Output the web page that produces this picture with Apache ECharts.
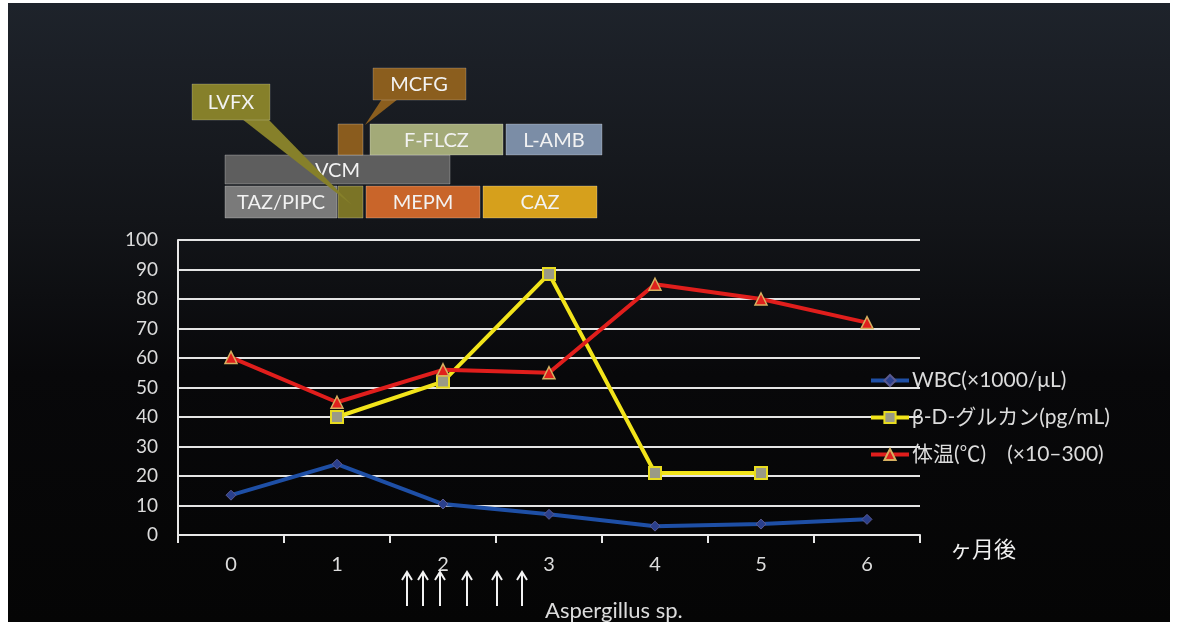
<!DOCTYPE html>
<html>
<head>
<meta charset="utf-8">
<script src="https://cdn.jsdelivr.net/npm/echarts@6/dist/echarts.min.js"></script>
<style>
  html, body { margin: 0; padding: 0; background: #fff; }
  #chart { width: 1180px; height: 625px; }
</style>
</head>
<body>
<div id="chart"></div>
<script>
// months after onset
const months = ['0', '1', '2', '3', '4', '5', '6'];
const wbc = [13.5, 24, 10.5, 7, 3, 3.7, 5.3];
const glucan = [null, 40, 52, 88.5, 21, 21, null];
const bodyTemp = [60.2, 45, 56, 55, 85, 80, 72];
const yTicks = { min: 0, max: 100, interval: 10 };
const seriesNames = ['WBC(×1000/μL)', 'β-D-グルカン(pg/mL)', '体温(℃)　(×10–300)'];

// drug timeline boxes: [label, x, y, w, h, color]
const drugBoxes = [
  ['TAZ/PIPC', 225, 186, 112, 32, '#7a7a7a'],
  ['', 338, 186, 25, 32, '#7b7426'],
  ['MEPM', 366, 186, 114, 32, '#c9652a'],
  ['CAZ', 483, 186, 114, 32, '#d6a01c'],
  ['VCM', 225, 155, 225, 29, '#5e5e5e'],
  ['', 338, 124, 25, 31, '#8a5c1e'],
  ['F-FLCZ', 370, 124, 133, 31, '#a3aa78'],
  ['L-AMB', 506, 124, 96, 31, '#7b8da6']
];
const arrowXs = [407, 423, 440, 467, 497, 522];

const font = 'Lato, "Noto Sans CJK JP", sans-serif';
const textColor = '#dcdcdc';

const chart = echarts.init(document.getElementById('chart'));

const graphics = [
  {
    type: 'rect', z: -10, silent: true,
    shape: { x: 8, y: 3, width: 1162, height: 619 },
    style: {
      fill: new echarts.graphic.LinearGradient(0, 0, 0, 1, [
        { offset: 0, color: '#1e232b' },
        { offset: 0.35, color: '#131519' },
        { offset: 0.6, color: '#08080a' },
        { offset: 1, color: '#050505' }
      ])
    }
  }
];

drugBoxes.forEach(b => {
  graphics.push({
    type: 'rect', z: 10,
    shape: { x: b[1], y: b[2], width: b[3], height: b[4] },
    style: { fill: b[5], stroke: 'rgba(255,255,255,0.25)', lineWidth: 1 }
  });
  if (b[0]) {
    graphics.push({
      type: 'text', z: 12,
      x: b[1] + b[3] / 2, y: b[2] + b[4] / 2 + 1,
      style: {
        text: b[0], fill: '#f2f2f2', font: '20px ' + font,
        align: 'center', verticalAlign: 'middle'
      }
    });
  }
});

// callouts
graphics.push(
  { type: 'polygon', z: 20, shape: { points: [[242, 119], [268, 119], [352, 205]] }, style: { fill: '#86802a' } },
  { type: 'rect', z: 20, shape: { x: 192, y: 84, width: 78, height: 36 }, style: { fill: '#86802a', stroke: 'rgba(255,255,255,0.2)' } },
  { type: 'text', z: 22, x: 231, y: 103, style: { text: 'LVFX', fill: '#f2f2f2', font: '20px ' + font, align: 'center', verticalAlign: 'middle' } },
  { type: 'polygon', z: 20, shape: { points: [[382, 99], [398, 99], [365, 125]] }, style: { fill: '#8b5e1e' } },
  { type: 'rect', z: 20, shape: { x: 373, y: 68, width: 93, height: 32 }, style: { fill: '#8b5e1e', stroke: 'rgba(255,255,255,0.2)' } },
  { type: 'text', z: 22, x: 419, y: 85, style: { text: 'MCFG', fill: '#f2f2f2', font: '20px ' + font, align: 'center', verticalAlign: 'middle' } }
);

// x axis unit & organism annotation
graphics.push(
  { type: 'text', z: 5, x: 950, y: 550, style: { text: 'ヶ月後', fill: '#f0f0f0', font: '22px ' + font, verticalAlign: 'middle' } },
  { type: 'text', z: 5, x: 545, y: 611, style: { text: 'Aspergillus sp.', fill: textColor, font: '22px ' + font, verticalAlign: 'middle' } }
);
arrowXs.forEach(x => {
  graphics.push({
    type: 'polyline', z: 5,
    shape: { points: [[x, 606], [x, 573]] },
    style: { stroke: '#f2f2f2', lineWidth: 2 }
  });
  graphics.push({
    type: 'polyline', z: 5,
    shape: { points: [[x - 5, 580], [x, 572], [x + 5, 580]] },
    style: { stroke: '#f2f2f2', lineWidth: 2, fill: null }
  });
});

const option = {
  backgroundColor: '#ffffff',
  animation: false,
  textStyle: { fontFamily: font },
  grid: { left: 178, right: 260, top: 240, bottom: 90 },
  legend: {
    orient: 'vertical',
    left: 864,
    top: 365,
    itemWidth: 38,
    itemHeight: 14,
    itemGap: 16,
    data: seriesNames,
    lineStyle: { width: 4 },
    textStyle: { color: textColor, fontSize: 21, fontFamily: font, padding: [0, 0, 0, -2] }
  },
  xAxis: {
    type: 'category',
    data: months,
    boundaryGap: true,
    axisLine: { lineStyle: { color: '#e8e8e8', width: 2 } },
    axisTick: { show: true, length: 8, lineStyle: { color: '#e8e8e8', width: 2 } },
    axisLabel: { color: textColor, fontSize: 20, margin: 20, fontFamily: font }
  },
  yAxis: {
    type: 'value',
    min: yTicks.min, max: yTicks.max, interval: yTicks.interval,
    axisLine: { show: true, lineStyle: { color: '#e8e8e8', width: 2 } },
    axisTick: { show: false },
    axisLabel: { color: textColor, fontSize: 19, margin: 20, fontFamily: font },
    splitLine: { lineStyle: { color: '#e4e4e4', width: 2 } }
  },
  series: [
    {
      name: seriesNames[0], type: 'line', data: wbc,
      symbol: 'diamond', symbolSize: 10,
      lineStyle: { color: '#1e4fa6', width: 4 },
      itemStyle: { color: '#2a3f8c', borderColor: '#5a5a90', borderWidth: 1 }
    },
    {
      name: seriesNames[1], type: 'line', data: glucan,
      symbol: 'rect', symbolSize: 12,
      lineStyle: { color: '#f2e41a', width: 4 },
      itemStyle: { color: '#9a9a86', borderColor: '#e8dc20', borderWidth: 2 }
    },
    {
      name: seriesNames[2], type: 'line', data: bodyTemp,
      symbol: 'triangle', symbolSize: 12,
      lineStyle: { color: '#e01e1c', width: 4 },
      itemStyle: { color: '#e0201c', borderColor: '#d6b060', borderWidth: 1.5 }
    }
  ],
  graphic: graphics
};

chart.setOption(option);
</script>
</body>
</html>
